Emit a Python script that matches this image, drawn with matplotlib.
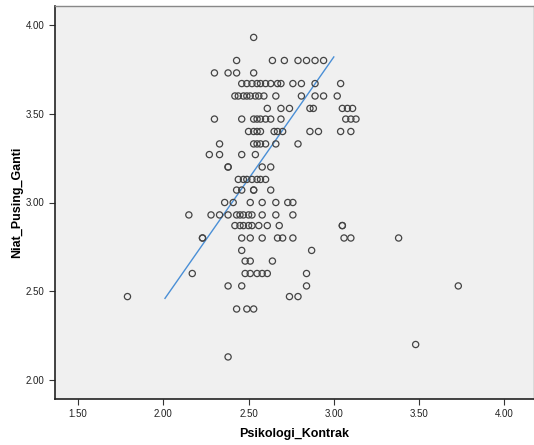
import matplotlib
matplotlib.use("Agg")
import matplotlib.pyplot as plt

# observed Niat_Pusing_Ganti levels and Psikologi_Kontrak values at each level
niat_levels = [3.93, 3.80, 3.73, 3.67, 3.60, 3.53, 3.47, 3.40, 3.33, 3.27,
               3.20, 3.13, 3.07, 3.00, 2.93, 2.87, 2.80, 2.73, 2.67, 2.60,
               2.53, 2.47, 2.40, 2.20, 2.13]
psiko_rows = [
    [2.53],
    [2.43, 2.64, 2.71, 2.79, 2.84, 2.89, 2.94],
    [2.30, 2.38, 2.43, 2.53],
    [2.46, 2.49, 2.52, 2.55, 2.57, 2.60, 2.63, 2.67, 2.69, 2.76, 2.81, 2.89, 3.04],
    [2.42, 2.44, 2.47, 2.49, 2.51, 2.54, 2.56, 2.59, 2.66, 2.81, 2.89, 2.94, 3.02],
    [2.61, 2.69, 2.74, 2.86, 2.88, 3.05, 3.08, 3.11],
    [2.30, 2.46, 2.53, 2.55, 2.57, 2.60, 2.63, 2.69, 3.07, 3.10, 3.13],
    [2.50, 2.53, 2.55, 2.57, 2.65, 2.67, 2.70, 2.86, 2.91, 3.04, 3.10],
    [2.33, 2.53, 2.55, 2.57, 2.60, 2.66, 2.79],
    [2.27, 2.33, 2.46, 2.54],
    [2.38, 2.38, 2.58, 2.63],
    [2.44, 2.47, 2.49, 2.52, 2.55, 2.57, 2.60],
    [2.43, 2.46, 2.53, 2.53, 2.63],
    [2.36, 2.41, 2.51, 2.58, 2.66, 2.73, 2.76],
    [2.15, 2.28, 2.33, 2.38, 2.43, 2.45, 2.47, 2.50, 2.52, 2.58, 2.66, 2.76],
    [2.42, 2.45, 2.47, 2.50, 2.52, 2.56, 2.61, 2.68, 3.05, 3.05],
    [2.23, 2.23, 2.46, 2.51, 2.58, 2.67, 2.70, 2.76, 3.06, 3.10, 3.38],
    [2.46, 2.87],
    [2.48, 2.51, 2.64],
    [2.17, 2.48, 2.51, 2.55, 2.58, 2.61, 2.84],
    [2.38, 2.46, 2.84, 3.73],
    [1.79, 2.74, 2.79],
    [2.43, 2.49, 2.53],
    [3.48],
    [2.38],
]

# fit line as drawn in the chart
fit_x = [2.01, 3.0]
fit_y = [2.46, 3.82]

x_ticks = [1.5, 2.0, 2.5, 3.0, 3.5, 4.0]
y_ticks = [2.0, 2.5, 3.0, 3.5, 4.0]

xs, ys = [], []
for yv, row in zip(niat_levels, psiko_rows):
    for xv in row:
        xs.append(xv)
        ys.append(yv)

plt.rcParams["font.family"] = ["Liberation Sans", "DejaVu Sans"]

fig = plt.figure(figsize=(5.34, 4.45), dpi=100)
ax = fig.add_axes([55 / 534, 46 / 445, 479 / 534, 393 / 445])
ax.set_facecolor("#f0f0f0")

ax.scatter(xs, ys, s=20, facecolors="none", edgecolors="#444444",
           linewidths=0.9, zorder=3)
ax.plot(fit_x, fit_y, color="#4a8fd6", linewidth=1.0, zorder=2)

ax.set_xlim(1.365, 4.174)
ax.set_ylim(1.893, 4.107)
ax.set_xticks(x_ticks)
ax.set_yticks(y_ticks)
ax.set_xticklabels([f"{t:.2f}" for t in x_ticks])
ax.set_yticklabels([f"{t:.2f}" for t in y_ticks])
ax.tick_params(labelsize=7, length=4, width=0.8, color="#333333",
               labelcolor="#222222")

for side in ["left", "bottom"]:
    ax.spines[side].set_color("#222222")
    ax.spines[side].set_linewidth(1.2)
for side in ["top", "right"]:
    ax.spines[side].set_color("#888888")
    ax.spines[side].set_linewidth(1.0)

ax.set_xlabel("Psikologi_Kontrak", fontsize=9, fontweight="bold", labelpad=6)
ax.set_ylabel("Niat_Pusing_Ganti", fontsize=9, fontweight="bold", labelpad=2)

fig.savefig("out.png", dpi=100)
